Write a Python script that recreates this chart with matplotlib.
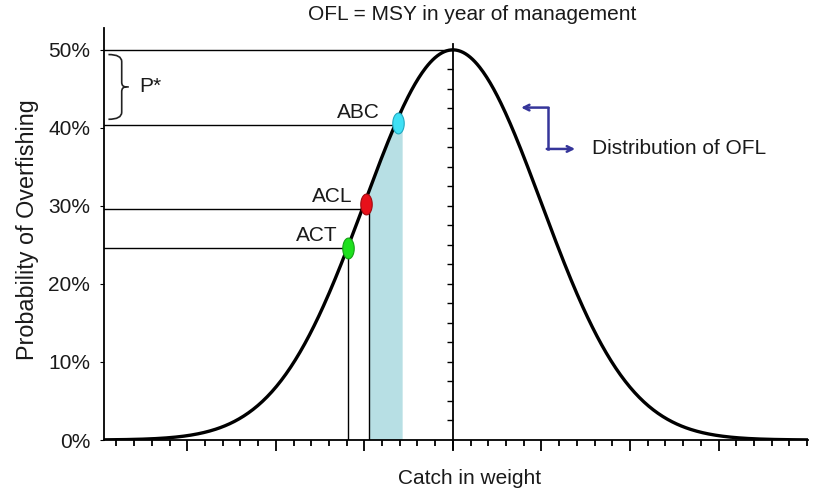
import numpy as np
import matplotlib
matplotlib.use('Agg')
import matplotlib.pyplot as plt
from matplotlib.path import Path
from matplotlib.patches import PathPatch
from matplotlib.markers import TICKLEFT

plt.rcParams['font.family'] = ['Liberation Sans', 'DejaVu Sans']

# data: catch in sigma units from the OFL, probability in percent
catch = np.linspace(-3.94, 4.0, 600)
peak = 50.0
prob = peak * np.exp(-catch ** 2 / 2)

names = ['ACT', 'ACL', 'ABC']
marker_x = [-1.19, -0.98, -0.62]
marker_y = [24.6, 30.2, 40.6]
line_y = [24.6, 29.6, 40.4]
marker_col = ['#1ee01e', '#e8101a', '#3fe0f5']
marker_edge = ['#14a014', '#a00a10', '#22a8c0']
shade_lo, shade_hi = -0.95, -0.565
pstar_top, pstar_bot = 50.0, 40.5
yticks = [0, 10, 20, 30, 40, 50]

fig = plt.figure(figsize=(8.17, 4.93), dpi=100)
ax = fig.add_axes([104 / 817, 53 / 493, 704 / 817, 412 / 493])
ax.set_xlim(-3.94, 4.01)
ax.set_ylim(0, 52.8)

txt = '#1a1a1a'
fs = 15

# shaded band between ACL and ABC
band = (catch >= shade_lo) & (catch <= shade_hi)
ax.fill_between(catch[band], 0, prob[band], color='#b7dfe4', lw=0, zorder=1)

# reference lines
ax.plot([-3.94, 0], [peak, peak], color='black', lw=1, zorder=2)
for x, y in zip(marker_x, line_y):
    ax.plot([-3.94, x], [y, y], color='black', lw=1, zorder=2)
ax.plot([marker_x[0], marker_x[0]], [0, marker_y[0]], color='black', lw=1, zorder=2)
ax.plot([shade_lo, shade_lo], [0, marker_y[1]], color='black', lw=1, zorder=2)

# center vertical line with its little ticks
ax.plot([0, 0], [-1.1, 50.7], color='black', lw=1.3, zorder=2, clip_on=False)
ticky = np.arange(2.5, 50, 2.5)
ax.plot(np.zeros_like(ticky), ticky, ls='none', marker=TICKLEFT, ms=4, mew=1,
        color='black', zorder=2)

# the curve
ax.plot(catch, prob, color='black', lw=2.4, zorder=3)

# markers (ellipses) and their labels
t = np.linspace(0, 2 * np.pi, 40)
ell = Path(np.column_stack([0.55 * np.cos(t), np.sin(t)]))
label_dx = [0.11, 0.15, 0.21]
for nm, x, y, ly, c, ec, dx in zip(names, marker_x, marker_y, line_y, marker_col,
                                   marker_edge, label_dx):
    ax.plot([x], [y], marker=ell, ms=15, color=c, mec=ec, mew=0.8, zorder=4)
    ax.text(x - dx, ly + 0.35, nm, ha='right', va='bottom', fontsize=fs, color=txt)

# P* bracket
xb0, xb1 = -3.89, -3.74
ym = (pstar_top + pstar_bot) / 2
verts = [(xb0, pstar_top - 0.6), (xb1, pstar_top - 0.6), (xb1, pstar_top - 1.5),
         (xb1, ym + 0.6), (xb1, ym), (xb1 + 0.05, ym), (xb1 + 0.08, ym),
         (xb1 + 0.05, ym), (xb1, ym), (xb1, ym - 0.6),
         (xb1, pstar_bot + 1.5), (xb1, pstar_bot + 0.6), (xb0, pstar_bot + 0.6)]
codes = [Path.MOVETO, Path.CURVE3, Path.CURVE3, Path.LINETO, Path.CURVE3, Path.CURVE3,
         Path.LINETO, Path.MOVETO, Path.CURVE3, Path.CURVE3,
         Path.LINETO, Path.CURVE3, Path.CURVE3]
ax.add_patch(PathPatch(Path(verts, codes), fill=False, lw=1.2, ec='#222222', zorder=3))
ax.text(xb1 + 0.2, ym, 'P*', ha='left', va='center', fontsize=fs, color=txt)

# distribution arrow
navy = '#35359a'
ax.plot([1.07, 1.07], [42.6, 37.3], color=navy, lw=1.8)
ax.annotate('', xy=(0.77, 42.6), xytext=(1.08, 42.6),
            arrowprops=dict(arrowstyle='->', color=navy, lw=1.8, shrinkA=0, shrinkB=0))
ax.annotate('', xy=(1.38, 37.3), xytext=(1.06, 37.3),
            arrowprops=dict(arrowstyle='->', color=navy, lw=1.8, shrinkA=0, shrinkB=0))
ax.text(1.57, 37.3, 'Distribution of OFL', ha='left', va='center', fontsize=fs, color=txt)

# axes styling
for s in ['top', 'right']:
    ax.spines[s].set_visible(False)
ax.spines['left'].set_linewidth(1.3)
ax.spines['bottom'].set_linewidth(1.3)
ax.set_yticks(yticks)
ax.set_yticklabels([f'{v}%' for v in yticks], fontsize=fs, color=txt)
ax.tick_params(axis='y', length=3, pad=7)
ax.set_xticks(np.arange(-3, 4, 1))
ax.set_xticks(np.arange(-3.8, 4.01, 0.2), minor=True)
ax.set_xticklabels([])
ax.tick_params(axis='x', which='major', length=8, width=1.3)
ax.tick_params(axis='x', which='minor', length=4, width=1.3)

fig.text(472 / 817, 1 - 15 / 493, 'OFL = MSY in year of management', ha='center', va='center',
         fontsize=fs, color=txt)
fig.text(470 / 817, 1 - 478 / 493, 'Catch in weight', ha='center', va='center',
         fontsize=fs, color=txt)
fig.text(28 / 817, 1 - 230 / 493, 'Probability of Overfishing', ha='center', va='center',
         rotation=90, fontsize=16.8, color=txt)

fig.savefig('out.png', dpi=100)
